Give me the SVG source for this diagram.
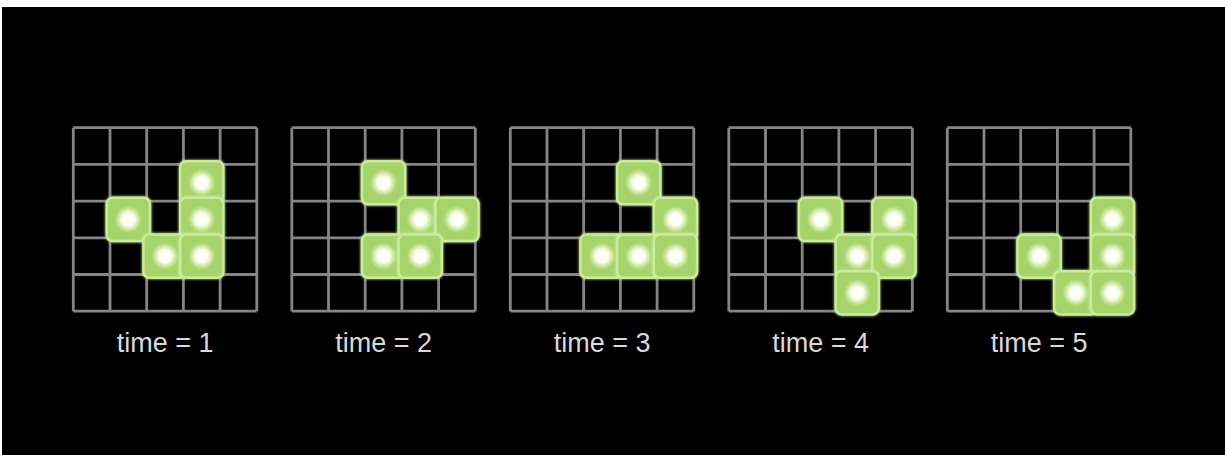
<svg xmlns="http://www.w3.org/2000/svg" xmlns:xlink="http://www.w3.org/1999/xlink" width="1225" height="455" viewBox="0 0 1225 455">
<style>
.bg{fill:#000}
.gl{fill:none;stroke:#858585;stroke-width:2.8}
.lit{fill:#a6d36a;stroke:#cbec9c;stroke-width:2.5}
.lbl{font-family:"Liberation Sans",Arial,sans-serif;font-size:27px;fill:#d9d9d9;text-anchor:middle}
</style>
<defs>
<radialGradient id="dot">
<stop offset="0" stop-color="#ffffff"/>
<stop offset="0.45" stop-color="#fbfff0"/>
<stop offset="0.75" stop-color="#e0f4c0" stop-opacity="0.6"/>
<stop offset="1" stop-color="#c8ea98" stop-opacity="0"/>
</radialGradient>
<filter id="glow" x="-30%" y="-30%" width="160%" height="160%">
<feGaussianBlur in="SourceGraphic" stdDeviation="1.5" result="b"/>
<feMerge><feMergeNode in="b"/><feMergeNode in="SourceGraphic"/></feMerge>
</filter>
<path id="grid" class="gl" d="M0,0V183.5M36.7,0V183.5M73.4,0V183.5M110.1,0V183.5M146.8,0V183.5M183.5,0V183.5M0,0H183.5M0,36.7H183.5M0,73.4H183.5M0,110.1H183.5M0,146.8H183.5M0,183.5H183.5"/>
<g id="cell" filter="url(#glow)">
<rect x="-21.6" y="-21.6" width="43.2" height="43.2" rx="6" class="lit"/>
<circle r="14" fill="url(#dot)"/>
</g>
</defs>
<rect x="0" y="0" width="1225" height="455" fill="#ffffff"/>
<rect x="2" y="7" width="1223" height="448" class="bg"/>
<g id="connectors"></g>
<g id="t1" transform="translate(73.3,127.7)">
<use xlink:href="#grid"/>
<use xlink:href="#cell" x="128.45" y="55.05"/>
<use xlink:href="#cell" x="55.05" y="91.75"/>
<use xlink:href="#cell" x="128.45" y="91.75"/>
<use xlink:href="#cell" x="91.75" y="128.45"/>
<use xlink:href="#cell" x="128.45" y="128.45"/>
<text class="lbl" x="91.75" y="224.3">time = 1</text>
</g>
<g id="t2" transform="translate(291.8,127.7)">
<use xlink:href="#grid"/>
<use xlink:href="#cell" x="91.75" y="55.05"/>
<use xlink:href="#cell" x="128.45" y="91.75"/>
<use xlink:href="#cell" x="165.15" y="91.75"/>
<use xlink:href="#cell" x="91.75" y="128.45"/>
<use xlink:href="#cell" x="128.45" y="128.45"/>
<text class="lbl" x="91.75" y="224.3">time = 2</text>
</g>
<g id="t3" transform="translate(510.3,127.7)">
<use xlink:href="#grid"/>
<use xlink:href="#cell" x="128.45" y="55.05"/>
<use xlink:href="#cell" x="165.15" y="91.75"/>
<use xlink:href="#cell" x="91.75" y="128.45"/>
<use xlink:href="#cell" x="128.45" y="128.45"/>
<use xlink:href="#cell" x="165.15" y="128.45"/>
<text class="lbl" x="91.75" y="224.3">time = 3</text>
</g>
<g id="t4" transform="translate(728.8,127.7)">
<use xlink:href="#grid"/>
<use xlink:href="#cell" x="91.75" y="91.75"/>
<use xlink:href="#cell" x="165.15" y="91.75"/>
<use xlink:href="#cell" x="128.45" y="128.45"/>
<use xlink:href="#cell" x="165.15" y="128.45"/>
<use xlink:href="#cell" x="128.45" y="165.15"/>
<text class="lbl" x="91.75" y="224.3">time = 4</text>
</g>
<g id="t5" transform="translate(947.3,127.7)">
<use xlink:href="#grid"/>
<use xlink:href="#cell" x="165.15" y="91.75"/>
<use xlink:href="#cell" x="91.75" y="128.45"/>
<use xlink:href="#cell" x="165.15" y="128.45"/>
<use xlink:href="#cell" x="128.45" y="165.15"/>
<use xlink:href="#cell" x="165.15" y="165.15"/>
<text class="lbl" x="91.75" y="224.3">time = 5</text>
</g>
</svg>
